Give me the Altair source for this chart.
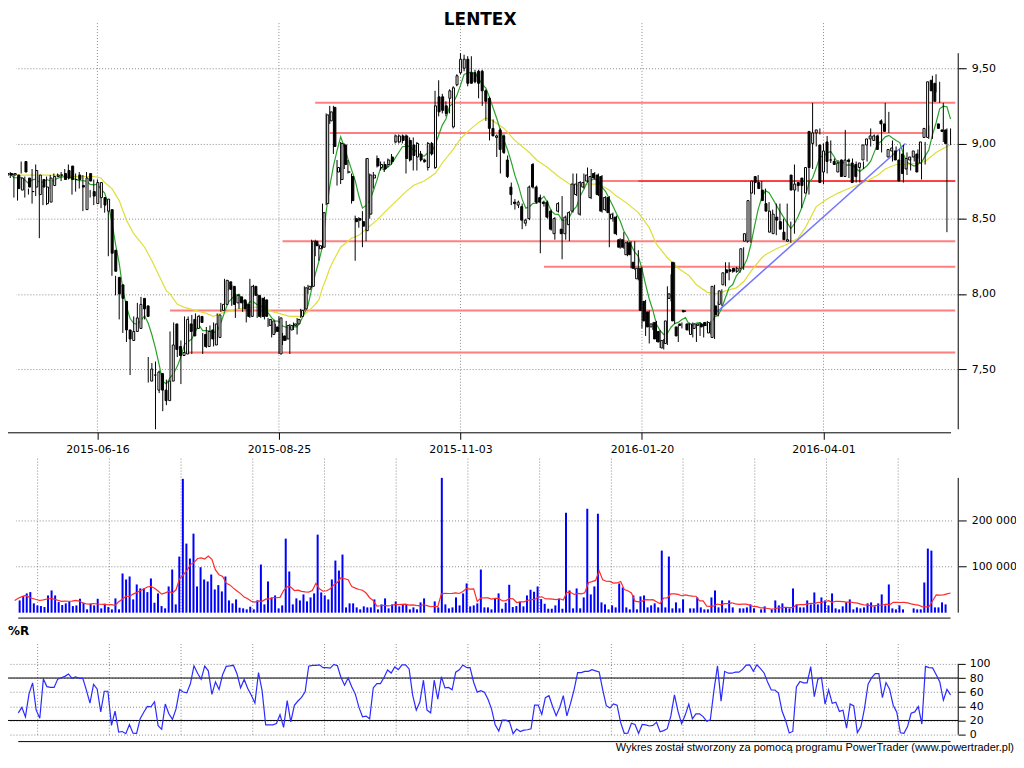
import altair as alt
import pandas as pd

# ---------------- data ----------------
opens = [
    8.79, 8.80, 8.79, 8.79, 8.69, 8.88, 8.77, 8.68, 8.71, 8.66,
    8.76, 8.60, 8.61, 8.72, 8.78, 8.79, 8.80, 8.82, 8.85, 8.76,
    8.79, 8.72, 8.56, 8.80, 8.68, 8.60, 8.64, 8.64, 8.55, 8.56,
    8.29, 8.11, 8.06, 7.95, 7.76, 7.69, 7.75, 7.77, 7.97, 7.92,
    7.42, 7.46, 7.36, 7.47, 7.36, 7.29, 7.42, 7.80, 7.65, 7.59,
    7.60, 7.80, 7.83, 7.77, 7.85, 7.73, 7.65, 7.76, 7.66, 7.71,
    7.89, 7.93, 8.08, 8.05, 7.94, 7.98, 7.96, 7.93, 7.85, 8.05,
    7.99, 7.97, 7.96, 7.79, 7.73, 7.78, 7.60, 7.72, 7.70, 7.76,
    7.79, 7.80, 7.85, 7.90, 8.03, 8.05, 8.35, 8.30, 8.31, 8.60,
    9.15, 9.24, 8.81, 8.76, 8.99, 8.81, 8.78, 8.50, 8.50, 8.48,
    8.42, 8.53, 8.77, 8.90, 8.84, 8.86, 8.86, 8.91, 9.01, 9.01,
    9.05, 9.05, 9.02, 8.99, 8.91, 8.93, 8.89, 8.84, 9.00, 8.84,
    9.31, 9.31, 9.25, 9.30, 9.11, 9.39, 9.47, 9.50, 9.56, 9.47,
    9.47, 9.48, 9.48, 9.35, 9.30, 9.10, 9.04, 9.09, 9.05, 8.89,
    8.71, 8.61, 8.59, 8.58, 8.47, 8.50, 8.86, 8.71, 8.64, 8.61,
    8.61, 8.55, 8.40, 8.55, 8.43, 8.40, 8.46, 8.55, 8.66, 8.53,
    8.71, 8.75, 8.64, 8.80, 8.79, 8.78, 8.56, 8.64, 8.50, 8.51,
    8.36, 8.36, 8.26, 8.34, 8.21, 8.10, 8.17, 7.95, 7.88, 7.78,
    7.81, 7.75, 7.64, 7.67, 7.97, 8.21, 7.78, 7.80, 7.89, 7.80,
    7.73, 7.77, 7.79, 7.80, 7.81, 7.74, 7.71, 7.92, 7.93, 8.06,
    8.16, 8.16, 8.17, 8.15, 8.17, 8.35, 8.35, 8.67, 8.78, 8.74,
    8.69, 8.60, 8.41, 8.40, 8.51, 8.48, 8.41, 8.35, 8.79, 8.69,
    8.74, 8.77, 8.67, 9.08, 9.00, 9.07, 8.99, 8.81, 9.01, 8.89,
    8.88, 8.81, 8.89, 8.78, 8.89, 8.87, 8.86, 8.84, 8.89, 8.99,
    9.03, 9.02, 9.05, 9.15, 9.13, 8.91, 8.95, 8.95, 8.89, 8.93,
    8.83, 8.89, 8.91, 8.93, 8.87, 9.04, 9.04, 9.42, 9.40, 9.13,
    9.09, 9.09,
]
highs = [
    8.80, 8.88, 8.81, 8.80, 8.78, 8.88, 8.78, 8.70, 8.83, 8.86,
    8.78, 8.72, 8.78, 8.79, 8.80, 8.80, 8.81, 8.83, 8.86, 8.78,
    8.80, 8.81, 8.79, 8.81, 8.69, 8.76, 8.76, 8.66, 8.64, 8.58,
    8.30, 8.12, 8.08, 7.97, 7.78, 7.76, 7.85, 7.94, 7.98, 7.93,
    7.58, 7.54, 7.55, 7.49, 7.37, 7.43, 7.75, 7.81, 7.66, 7.69,
    7.85, 7.85, 7.86, 7.87, 7.86, 7.74, 7.78, 7.79, 7.81, 7.87,
    7.94, 8.10, 8.09, 8.06, 8.00, 8.00, 7.98, 7.95, 8.10, 8.06,
    8.00, 7.98, 7.98, 7.84, 7.83, 7.80, 7.85, 7.74, 7.82, 7.80,
    7.81, 7.84, 7.90, 8.05, 8.06, 8.36, 8.36, 8.33, 8.60, 9.20,
    9.25, 9.25, 8.89, 9.01, 9.00, 8.89, 8.80, 8.52, 8.51, 8.55,
    8.90, 8.80, 8.81, 8.92, 8.88, 8.88, 8.90, 8.93, 9.06, 9.06,
    9.06, 9.06, 9.04, 9.04, 9.01, 8.95, 8.90, 9.01, 9.01, 9.35,
    9.42, 9.33, 9.28, 9.36, 9.38, 9.46, 9.60, 9.59, 9.58, 9.58,
    9.49, 9.49, 9.49, 9.36, 9.31, 9.16, 9.06, 9.10, 9.06, 8.92,
    8.74, 8.63, 8.62, 8.60, 8.50, 8.72, 8.87, 8.72, 8.66, 8.62,
    8.62, 8.56, 8.51, 8.61, 8.65, 8.52, 8.55, 8.80, 8.80, 8.75,
    8.80, 8.84, 8.83, 8.81, 8.80, 8.79, 8.65, 8.65, 8.54, 8.52,
    8.37, 8.41, 8.35, 8.35, 8.35, 8.29, 8.18, 7.96, 7.89, 7.81,
    7.82, 7.76, 7.70, 8.05, 8.13, 8.21, 7.79, 7.81, 7.89, 7.81,
    7.81, 7.80, 7.81, 7.81, 7.82, 7.82, 8.06, 7.95, 8.03, 8.21,
    8.21, 8.17, 8.18, 8.18, 8.31, 8.41, 8.71, 8.76, 8.79, 8.75,
    8.70, 8.61, 8.56, 8.60, 8.60, 8.50, 8.60, 8.48, 8.86, 8.74,
    8.75, 8.78, 8.85, 9.27, 9.08, 9.10, 9.00, 9.05, 9.02, 8.90,
    8.89, 8.88, 9.09, 8.90, 8.90, 8.88, 8.87, 8.88, 9.00, 9.10,
    9.06, 9.06, 9.16, 9.27, 9.21, 9.02, 8.98, 8.96, 8.99, 8.94,
    8.91, 8.92, 8.96, 8.94, 9.01, 9.12, 9.45, 9.46, 9.41, 9.27,
    9.10, 9.10,
]
lows = [
    8.75, 8.75, 8.77, 8.64, 8.62, 8.80, 8.64, 8.66, 8.60, 8.65,
    8.37, 8.59, 8.59, 8.70, 8.77, 8.78, 8.75, 8.77, 8.76, 8.66,
    8.68, 8.70, 8.55, 8.70, 8.64, 8.59, 8.62, 8.57, 8.54, 8.25,
    8.12, 7.99, 7.83, 7.74, 7.68, 7.46, 7.73, 7.76, 7.89, 7.83,
    7.41, 7.42, 7.10, 7.34, 7.22, 7.26, 7.36, 7.63, 7.58, 7.40,
    7.59, 7.69, 7.60, 7.75, 7.80, 7.60, 7.64, 7.69, 7.65, 7.69,
    7.88, 7.92, 8.02, 7.92, 7.84, 7.90, 7.88, 7.81, 7.84, 7.98,
    7.84, 7.84, 7.83, 7.78, 7.71, 7.74, 7.60, 7.66, 7.69, 7.60,
    7.76, 7.73, 7.84, 7.89, 8.00, 8.04, 8.25, 8.22, 8.30, 8.59,
    9.13, 8.93, 8.72, 8.73, 8.83, 8.80, 8.60, 8.22, 8.44, 8.31,
    8.35, 8.50, 8.70, 8.84, 8.82, 8.81, 8.84, 8.86, 9.00, 9.00,
    9.00, 8.80, 8.88, 8.82, 8.82, 8.88, 8.87, 8.82, 8.92, 8.83,
    9.18, 9.20, 9.18, 9.20, 9.10, 9.38, 9.46, 9.48, 9.38, 9.40,
    9.40, 9.30, 9.25, 9.15, 9.02, 9.05, 8.91, 8.80, 8.93, 8.77,
    8.59, 8.56, 8.57, 8.43, 8.45, 8.49, 8.70, 8.60, 8.27, 8.58,
    8.50, 8.42, 8.36, 8.54, 8.23, 8.36, 8.35, 8.54, 8.65, 8.52,
    8.70, 8.74, 8.63, 8.76, 8.65, 8.54, 8.55, 8.31, 8.48, 8.39,
    8.30, 8.30, 8.25, 8.17, 8.16, 8.09, 7.77, 7.72, 7.67, 7.76,
    7.68, 7.64, 7.63, 7.66, 7.95, 7.80, 7.68, 7.77, 7.88, 7.75,
    7.71, 7.68, 7.72, 7.71, 7.76, 7.73, 7.70, 7.85, 7.92, 8.05,
    8.09, 8.14, 8.14, 8.14, 8.16, 8.34, 8.34, 8.66, 8.73, 8.63,
    8.59, 8.45, 8.40, 8.39, 8.48, 8.38, 8.35, 8.34, 8.40, 8.68,
    8.57, 8.70, 8.66, 8.83, 8.98, 9.06, 8.73, 8.80, 8.87, 8.87,
    8.85, 8.78, 8.78, 8.77, 8.87, 8.74, 8.74, 8.83, 8.88, 8.98,
    9.02, 9.01, 8.94, 9.12, 9.07, 8.88, 8.92, 8.89, 8.74, 8.79,
    8.82, 8.88, 8.90, 8.76, 8.86, 9.03, 9.03, 9.34, 9.27, 9.01,
    8.41, 8.99,
]
closes = [
    8.80, 8.79, 8.80, 8.70, 8.77, 8.81, 8.71, 8.68, 8.82, 8.79,
    8.71, 8.71, 8.77, 8.78, 8.79, 8.79, 8.76, 8.77, 8.76, 8.76,
    8.76, 8.71, 8.77, 8.75, 8.65, 8.74, 8.74, 8.59, 8.63, 8.27,
    8.15, 8.00, 7.97, 7.76, 7.70, 7.75, 7.84, 7.93, 7.90, 7.85,
    7.50, 7.46, 7.48, 7.36, 7.29, 7.42, 7.66, 7.63, 7.59, 7.61,
    7.83, 7.75, 7.72, 7.85, 7.81, 7.65, 7.75, 7.70, 7.80, 7.86,
    7.93, 8.09, 8.03, 7.93, 7.99, 7.94, 7.90, 7.85, 8.05, 7.99,
    7.85, 7.85, 7.85, 7.83, 7.82, 7.75, 7.84, 7.69, 7.79, 7.79,
    7.80, 7.83, 7.89, 8.04, 8.05, 8.35, 8.32, 8.32, 8.54, 9.19,
    9.21, 8.98, 8.84, 9.00, 8.86, 8.81, 8.62, 8.48, 8.49, 8.45,
    8.90, 8.79, 8.79, 8.85, 8.86, 8.83, 8.89, 8.88, 9.05, 9.05,
    9.02, 8.90, 8.89, 8.92, 9.00, 8.89, 8.88, 9.00, 8.93, 9.25,
    9.21, 9.22, 9.20, 9.35, 9.37, 9.45, 9.56, 9.56, 9.40, 9.40,
    9.41, 9.40, 9.35, 9.28, 9.10, 9.05, 9.05, 8.96, 8.94, 8.78,
    8.66, 8.60, 8.61, 8.49, 8.49, 8.71, 8.71, 8.61, 8.61, 8.60,
    8.51, 8.43, 8.50, 8.60, 8.40, 8.51, 8.54, 8.73, 8.73, 8.74,
    8.74, 8.79, 8.78, 8.77, 8.66, 8.55, 8.64, 8.54, 8.53, 8.40,
    8.31, 8.31, 8.34, 8.26, 8.17, 8.17, 7.89, 7.82, 7.78, 7.80,
    7.70, 7.68, 7.69, 7.82, 8.00, 7.82, 7.72, 7.79, 7.88, 7.76,
    7.80, 7.80, 7.80, 7.78, 7.79, 7.81, 8.05, 7.86, 8.02, 8.14,
    8.14, 8.15, 8.15, 8.17, 8.30, 8.40, 8.62, 8.75, 8.74, 8.70,
    8.62, 8.55, 8.55, 8.53, 8.49, 8.43, 8.36, 8.36, 8.69, 8.73,
    8.72, 8.72, 8.84, 8.84, 9.07, 9.09, 8.74, 8.95, 8.88, 8.89,
    8.86, 8.87, 8.78, 8.89, 8.88, 8.74, 8.78, 8.87, 8.99, 9.03,
    9.05, 9.05, 8.96, 9.13, 9.08, 8.96, 8.97, 8.89, 8.75, 8.80,
    8.90, 8.91, 8.95, 8.81, 9.01, 9.10, 9.41, 9.35, 9.28, 9.10,
    9.08, 9.00,
]
volumes = [
    26600, 36000, 41800, 44600, 20200, 15800, 14400, 12200, 37400, 48200,
    37400, 23000, 16600, 20200, 24500, 14400, 15800, 30200, 21600, 7200,
    19400, 15800, 30200, 9400, 19400, 12200, 7200, 31000, 7200, 85000,
    72000, 78500, 28800, 61200, 52600, 52600, 44600, 74200, 21600, 41800,
    14400, 9400, 56900, 93600, 18000, 121700, 290200, 149800, 117400, 171400,
    56900, 98600, 72000, 67700, 82800, 50400, 59800, 46100, 78500, 26600,
    20200, 28800, 10800, 9400, 7200, 13000, 7200, 26600, 104400, 18000,
    67700, 33100, 37400, 9400, 15800, 160600, 89300, 18000, 31000, 26600,
    39600, 24500, 33100, 41800, 169200, 43900, 37400, 28800, 72000, 113000,
    91400, 126000, 11500, 20200, 20200, 11500, 7200, 13700, 11500, 11500,
    28800, 7200, 18000, 31000, 9400, 18000, 24500, 13700, 18000, 18000,
    7200, 11500, 7200, 22300, 31000, 0, 0, 24500, 11500, 292300,
    18000, 9400, 11500, 33100, 15800, 41800, 63400, 13700, 15800, 20200,
    93600, 11500, 11500, 7200, 31000, 41800, 8600, 21600, 60500, 12200,
    14400, 23800, 13700, 37400, 49700, 45400, 56900, 29500, 19400, 8600,
    8600, 15800, 30200, 8600, 216700, 48200, 9400, 52600, 9400, 33100,
    225400, 39600, 56900, 214600, 22300, 18000, 7200, 15800, 11500, 63400,
    54700, 11500, 7200, 37400, 7200, 35300, 37400, 11500, 15800, 20200,
    11500, 134600, 11500, 121700, 9400, 22300, 9400, 28800, 0, 9400,
    9400, 33100, 11500, 7200, 7200, 33100, 48200, 11500, 26600, 9400,
    26600, 11500, 0, 9400, 9400, 11500, 18000, 9400, 0, 7200,
    13700, 0, 7200, 26600, 15800, 20200, 11500, 9400, 52600, 18000,
    11500, 11500, 26600, 18000, 43900, 18000, 33100, 26600, 15800, 41800,
    9400, 7200, 13700, 22300, 28800, 7200, 11500, 9400, 11500, 20200,
    22300, 13700, 20200, 39600, 15800, 61200, 9400, 7200, 15800, 7200,
    0, 0, 9400, 7200, 7200, 65500, 139000, 134600, 11500, 11500,
    22300, 18000,
]

yellow_idx = [0, 5, 10, 15, 20, 25, 27, 28, 30, 32, 34, 36, 38, 39, 41, 43, 45, 46, 48, 50,
              53, 56, 58, 60, 63, 65, 68, 71, 73, 76, 79, 82, 84, 86, 87, 88, 89, 90, 91, 93,
              96, 98, 100, 103, 105, 108, 111, 113, 116, 119, 121, 124, 126, 129, 131, 133, 135, 138, 141, 145,
              147, 150, 153, 156, 158, 161, 164, 167, 169, 172, 175, 178, 180, 183, 186, 189, 191, 194, 197, 199,
              202, 204, 206, 209, 210, 213, 216, 219, 221, 224, 227, 230, 232, 235, 238, 241, 243, 246, 249, 252,
              254, 257, 260, 261]
yellow_val = [8.80, 8.79, 8.79, 8.79, 8.78, 8.78, 8.77, 8.74, 8.70, 8.62, 8.49, 8.40, 8.34, 8.31, 8.22, 8.12, 8.02, 8.00, 7.93, 7.91,
              7.89, 7.87, 7.85, 7.87, 7.89, 7.90, 7.91, 7.91, 7.89, 7.87, 7.85, 7.85, 7.88, 7.93, 7.96, 8.04, 8.10, 8.17, 8.22, 8.31,
              8.37, 8.39, 8.43, 8.49, 8.54, 8.61, 8.68, 8.72, 8.75, 8.80, 8.87, 8.96, 9.03, 9.10, 9.14, 9.17, 9.15, 9.10, 9.02, 8.94,
              8.89, 8.84, 8.78, 8.73, 8.72, 8.73, 8.73, 8.69, 8.65, 8.60, 8.54, 8.44, 8.33, 8.24, 8.17, 8.12, 8.06, 8.01, 8.00, 8.02,
              8.04, 8.08, 8.15, 8.24, 8.26, 8.30, 8.33, 8.37, 8.44, 8.58, 8.63, 8.67, 8.69, 8.72, 8.75, 8.79, 8.83, 8.86, 8.86, 8.87,
              8.88, 8.94, 8.98, 8.99]

# support / resistance levels (price, first session, last session)
level_price = [9.27, 9.07, 8.75, 8.35, 8.18, 7.89, 7.61]
level_start = [86, 90, 165, 77, 149, 46, 50]
level_end = [262.3, 254, 262.3, 262.3, 262.3, 262.3, 262.3]
accent_price = [8.75]
accent_start = [175]
accent_end = [262.3]

# trend line (session, price)
trend_idx = [196.7, 248.6]
trend_val = [7.88, 9.00]

date_ticks = [26, 76, 126, 176, 226]
date_labels = ["2015-06-16", "2015-08-25", "2015-11-03", "2016-01-20", "2016-04-01"]
price_ticks = [7.5, 8.0, 8.5, 9.0, 9.5]
vol_ticks = [100000, 200000]
r_ticks = [0, 20, 40, 60, 80, 100]
r_levels = [20, 80]
lower_grid = [6.4, 26.4, 46.4, 66.4, 86.4, 106.4, 126.4, 146.4, 166.4, 186.4, 206.4, 226.4, 246.4]

title_text = ["LENTEX"]
panel_label = ["%R"]
footer_text = ["Wykres został stworzony za pomocą programu PowerTrader (www.powertrader.pl)"]

# ---------------- layout ----------------
W, H = 954, 735
FONT = "DejaVu Sans"
GRID = "#8a8a8a"
DASH = [1, 2]

n = len(closes)
df = pd.DataFrame({"i": list(range(n)), "open": opens, "high": highs, "low": lows,
                   "close": closes, "volume": volumes})

xm = alt.Scale(domain=[0, 261], range=[-5, 946.3], nice=False, zero=False)
xl = alt.Scale(domain=[0, 261], range=[6.7, 946.3], nice=False, zero=False)
yp = alt.Scale(domain=[7.0, 9.8], range=[436.5, 13.7], nice=False, zero=False)
yv = alt.Scale(domain=[0, 330000], range=[605.6, 452.8], nice=False, zero=False)
yr = alt.Scale(domain=[0, 100], range=[728, 657], nice=False, zero=False)

label_map = "[" + ",".join("'%s'" % s for s in date_labels) + "][indexof([" + \
    ",".join(str(t) for t in date_ticks) + "], datum.value)]"

x_axis = alt.Axis(orient="bottom", values=date_ticks, labelExpr=label_map, offset=424.5 - H,
                  domain=True, domainColor="black", domainWidth=1, ticks=True, tickSize=7,
                  tickColor="black", labelFont=FONT, labelFontSize=11, labelColor="black",
                  labelPadding=4, grid=False, title=None, labelFlush=False, labelOverlap=False)

def right_axis(values, expr, tick=8, pad=5):
    return alt.Axis(orient="right", values=values, labelExpr=expr, grid=True, gridColor=GRID,
                    gridDash=DASH, gridWidth=1, domain=False, ticks=True, tickSize=tick,
                    tickColor="black", labelPadding=pad, labelFont=FONT, labelFontSize=11,
                    labelColor="black", title=None, labelFlush=False, labelOverlap=False)

layers = []

# main panel vertical grid + date axis
layers.append(alt.Chart(pd.DataFrame({"t": date_ticks})).mark_rule(
    color=GRID, strokeDash=DASH, strokeWidth=1).encode(
    x=alt.X("t:Q", scale=xm, axis=x_axis),
    y=alt.YDatum(9.80, scale=yp, axis=None),
    y2=alt.Y2Datum(7.08)))

# support / resistance lines
layers.append(alt.Chart(pd.DataFrame({"p": level_price, "s": level_start, "e": level_end})).mark_rule(
    color="#ff7f7f", strokeWidth=2).encode(
    x=alt.X("s:Q", scale=xm, axis=None), x2="e:Q",
    y=alt.Y("p:Q", scale=yp, axis=None)))
layers.append(alt.Chart(pd.DataFrame({"p": accent_price, "s": accent_start, "e": accent_end})).mark_rule(
    color="#ff0000", strokeWidth=1).encode(
    x=alt.X("s:Q", scale=xm, axis=None), x2="e:Q",
    y=alt.Y("p:Q", scale=yp, axis=None)))

# slow average
layers.append(alt.Chart(pd.DataFrame({"i": yellow_idx, "v": yellow_val})).mark_line(
    color="#dede3a", strokeWidth=1.2).encode(
    x=alt.X("i:Q", scale=xm, axis=None), y=alt.Y("v:Q", scale=yp, axis=None)))

# fast average (5 sessions)
layers.append(alt.Chart(df).transform_window(
    ma="mean(close)", frame=[-4, 0], sort=[alt.SortField("i")]).mark_line(
    color="#2aa22a", strokeWidth=1.2).encode(
    x=alt.X("i:Q", scale=xm, axis=None), y=alt.Y("ma:Q", scale=yp, axis=None)))

# trend line
layers.append(alt.Chart(pd.DataFrame({"i": trend_idx, "v": trend_val})).mark_line(
    color="#7474ff", strokeWidth=1.5).encode(
    x=alt.X("i:Q", scale=xm, axis=None), y=alt.Y("v:Q", scale=yp, axis=None)))

# candle wicks (with price axis)
layers.append(alt.Chart(df).mark_rule(color="black", strokeWidth=1).encode(
    x=alt.X("i:Q", scale=xm, axis=None),
    y=alt.Y("low:Q", scale=yp,
            axis=right_axis(price_ticks, "replace(format(datum.value, '.2f'), '.', ',')")),
    y2="high:Q"))

# candle bodies
layers.append(alt.Chart(df).mark_bar(width=2, stroke="black", strokeWidth=1).encode(
    x=alt.X("i:Q", scale=xm, axis=None),
    y=alt.Y("open:Q", scale=yp, axis=None), y2="close:Q",
    fill=alt.condition("datum.close >= datum.open", alt.value("white"), alt.value("black"))))

# price axis line
layers.append(alt.Chart(df).transform_aggregate(lo="min(low)", hi="max(high)").mark_rule(
    color="black", strokeWidth=1).encode(
    x=alt.value(W), y=alt.Y("lo:Q", scale=yp, axis=None), y2="hi:Q"))

# ---- volume panel ----
layers.append(alt.Chart(pd.DataFrame({"g": lower_grid})).mark_rule(
    color=GRID, strokeDash=DASH, strokeWidth=1).encode(
    x=alt.X("g:Q", scale=xl, axis=None),
    y=alt.YDatum(334000, scale=yv, axis=None), y2=alt.Y2Datum(-3000)))

layers.append(alt.Chart(df).mark_bar(width=2, color="#0000ff").encode(
    x=alt.X("i:Q", scale=xl, axis=None),
    y=alt.Y("volume:Q", scale=yv,
            axis=right_axis(vol_ticks, "replace(format(datum.value, ',d'), ',', ' ')"))))

layers.append(alt.Chart(df).transform_window(
    vma="mean(volume)", frame=[-9, 0], sort=[alt.SortField("i")]).mark_line(
    color="#ff2a2a", strokeWidth=1.2).encode(
    x=alt.X("i:Q", scale=xl, axis=None), y=alt.Y("vma:Q", scale=yv, axis=None)))

layers.append(alt.Chart(df).transform_aggregate(vmax="max(volume)").mark_rule(
    color="black", strokeWidth=1).encode(
    x=alt.value(W), y=alt.Y("vmax:Q", scale=yv, axis=None), y2=alt.Y2Datum(0)))

layers.append(alt.Chart(pd.DataFrame({"a": [1], "b": [261]})).mark_rule(
    color="black", strokeWidth=1).encode(
    x=alt.X("a:Q", scale=xl, axis=None), x2="b:Q",
    y=alt.YDatum(-11700, scale=yv, axis=None)))

# ---- %R panel ----
layers.append(alt.Chart(pd.DataFrame({"g": lower_grid})).mark_rule(
    color=GRID, strokeDash=DASH, strokeWidth=1).encode(
    x=alt.X("g:Q", scale=xl, axis=None),
    y=alt.YDatum(128, scale=yr, axis=None), y2=alt.Y2Datum(-3)))

layers.append(alt.Chart(pd.DataFrame({"lv": r_levels})).mark_rule(
    color="black", strokeWidth=1).encode(
    y=alt.Y("lv:Q", scale=yr, axis=right_axis(r_ticks, "format(datum.value, 'd')", tick=7, pad=4))))

layers.append(alt.Chart(df).transform_window(
    hh="max(high)", ll="min(low)", frame=[-9, 0], sort=[alt.SortField("i")]).transform_calculate(
    r="100 * (datum.close - datum.ll) / (datum.hh - datum.ll)").transform_filter(
    "datum.i >= 1").mark_line(color="#2b2bff", strokeWidth=1.2).encode(
    x=alt.X("i:Q", scale=xl, axis=None), y=alt.Y("r:Q", scale=yr, axis=None)))

layers.append(alt.Chart(pd.DataFrame({"lo": [min(r_ticks)], "hi": [max(r_ticks)]})).mark_rule(
    color="black", strokeWidth=1).encode(
    x=alt.value(W), y=alt.Y("lo:Q", scale=yr, axis=None), y2="hi:Q"))

layers.append(alt.Chart(pd.DataFrame({"a": [1], "b": [261]})).mark_rule(
    color="black", strokeWidth=1).encode(
    x=alt.X("a:Q", scale=xl, axis=None), x2="b:Q",
    y=alt.YDatum(-9.9, scale=yr, axis=None)))

# ---- texts ----
layers.append(alt.Chart(pd.DataFrame({"t": title_text})).mark_text(
    font=FONT, fontSize=17, fontWeight="bold", align="center", baseline="alphabetic",
    color="black").encode(x=alt.value(474), y=alt.value(16), text="t:N"))

layers.append(alt.Chart(pd.DataFrame({"t": panel_label})).mark_text(
    font=FONT, fontSize=12, fontWeight="bold", align="left", baseline="alphabetic",
    color="black").encode(x=alt.value(0), y=alt.value(628.5), text="t:N"))

layers.append(alt.Chart(pd.DataFrame({"t": footer_text})).mark_text(
    font="Liberation Sans", fontSize=11, align="right", baseline="alphabetic",
    color="black").encode(x=alt.value(1010), y=alt.value(744), text="t:N"))

chart = alt.layer(*layers).resolve_scale(
    x="independent", y="independent").properties(
    width=W, height=H, autosize="none",
    padding={"left": 0, "top": 0, "right": 58, "bottom": 13},
    background="white").configure_view(stroke=None)

chart.save("out.html", embed_options={"renderer": "svg", "actions": False})
